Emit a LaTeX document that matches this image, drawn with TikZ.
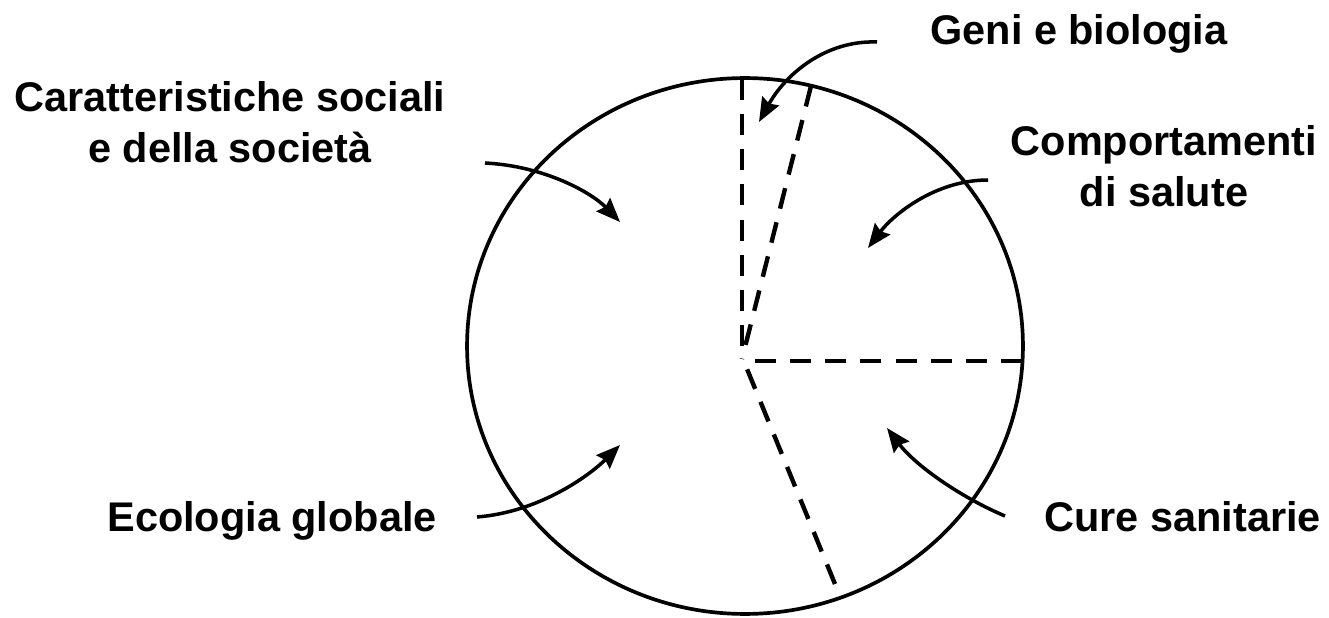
\documentclass[tikz,border=0pt]{standalone}
\usepackage{fontspec}
\setmainfont{Liberation Sans}
\usetikzlibrary{arrows.meta,shapes.geometric}
\begin{document}
\begin{tikzpicture}[x=0.02cm,y=-0.02cm,
  lbl/.style={font=\bfseries\fontsize{23.6}{29}\selectfont, inner sep=0pt, align=center},
  rim/.style={draw=black, line width=2.1pt},
  sector/.style={draw=black, line width=2.5pt, dash pattern=on 12pt off 8pt},
  pointer/.style={draw=black, line width=2pt, -{Stealth[length=0.48cm,width=0.38cm,inset=0.06cm]}}]
\useasboundingbox (0,0) rectangle (1329,618);
\fill[white] (0,0) rectangle (1329,618);
% the disc
\node[ellipse, rim, minimum width=11.12cm, minimum height=10.72cm, inner sep=0pt] (disk) at (745,346) {};
% sector borders
\coordinate (J) at (742,359);
\coordinate (Jr) at (745,361);
\coordinate (Jl) at (745,364);
\coordinate (dTop) at (742,79);
\coordinate (dGeni) at (811,86);
\coordinate (dRight) at (1022,361);
\coordinate (dLow) at (835,584);
\draw[sector] (dTop) -- (J);
\draw[sector] (dGeni) -- (J);
\draw[sector] (dRight) -- (Jr);
\draw[sector] (dLow) -- (Jl);
% labels
\node[lbl, anchor=base west] (geni) at (930,45) {Geni e biologia};
\node[lbl] (social) at (230,122) {Caratteristiche sociali\\e della società};
\node[lbl] (comp) at (1164,166) {Comportamenti\\di salute};
\node[lbl, anchor=base west] (eco) at (107,531) {Ecologia globale};
\node[lbl, anchor=base west] (cure) at (1044,531) {Cure sanitarie};
% arrows
\coordinate (gS) at (877,42);  \coordinate (gT) at (759,122);
\coordinate (sS) at (485,163); \coordinate (sT) at (620,222);
\coordinate (cS) at (988,180); \coordinate (cT) at (868,248);
\coordinate (eS) at (477,517); \coordinate (eT) at (620,445);
\coordinate (uS) at (1005,516); \coordinate (uT) at (887,428);
\draw[pointer] (gS) .. controls (825,40) and (785,75) .. (gT);
\draw[pointer] (sS) .. controls (545,166) and (592,193) .. (sT);
\draw[pointer] (cS) .. controls (935,180) and (893,215) .. (cT);
\draw[pointer] (eS) .. controls (540,512) and (590,475) .. (eT);
\draw[pointer] (uS) .. controls (960,497) and (915,465) .. (uT);
\end{tikzpicture}
\end{document}
